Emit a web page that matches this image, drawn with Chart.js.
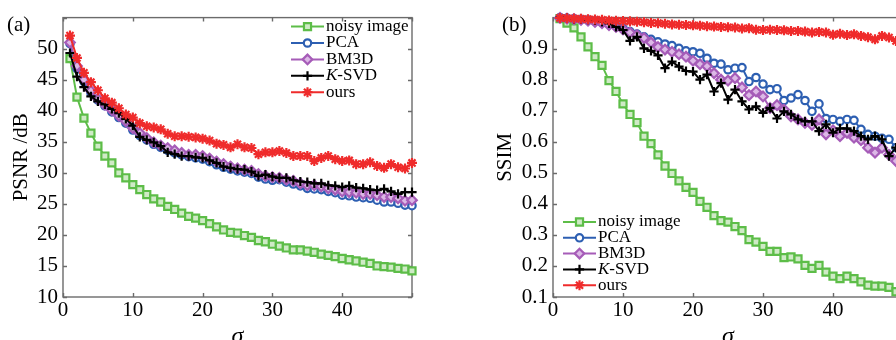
<!DOCTYPE html>
<html>
<head>
<meta charset="utf-8">
<script src="https://cdn.jsdelivr.net/npm/chart.js@4.4.0/dist/chart.umd.min.js"></script>
<style>
  html, body { margin: 0; padding: 0; background: #fff; overflow: hidden; width: 896px; height: 340px; position: relative; }
  #psnrChart { position: absolute; left: 0; top: 0; }
  #ssimChart { position: absolute; left: 450px; top: 0; }
</style>
</head>
<body>
<canvas id="psnrChart" width="440" height="340"></canvas>
<canvas id="ssimChart" width="480" height="340"></canvas>
<script>
// noise level (x axis), shared by both panels
const sigma = [1, 2, 3, 4, 5, 6, 7, 8, 9, 10, 11, 12, 13, 14, 15, 16, 17, 18, 19, 20,
  21, 22, 23, 24, 25, 26, 27, 28, 29, 30, 31, 32, 33, 34, 35, 36, 37, 38, 39, 40,
  41, 42, 43, 44, 45, 46, 47, 48, 49, 50];
const methods = ['noisy image', 'PCA', 'BM3D', 'K-SVD', 'ours'];

// (a) PSNR /dB
const psnrNoisy = [48.4, 42.2, 38.8, 36.4, 34.3, 32.7, 31.6, 30.0, 29.2, 28.1, 27.3, 26.5, 25.8, 25.3, 24.6, 24.1, 23.5, 23.0, 22.7, 22.3,
  21.8, 21.3, 20.8, 20.4, 20.3, 19.9, 19.6, 19.1, 18.9, 18.5, 18.2, 17.9, 17.6, 17.6, 17.4, 17.2, 16.9, 16.7, 16.5, 16.2,
  16.0, 15.8, 15.6, 15.4, 15.0, 14.9, 14.8, 14.6, 14.5, 14.2];
const psnrPCA = [50.8, 46.8, 44.7, 42.9, 41.7, 40.8, 39.8, 38.9, 38.0, 36.9, 36.0, 35.3, 34.6, 34.1, 33.6, 33.2, 32.9, 32.6, 32.4, 32.2,
  31.8, 31.3, 30.9, 30.6, 30.3, 30.1, 29.9, 29.3, 29.0, 28.8, 28.9, 28.5, 28.2, 27.9, 27.5, 27.4, 27.3, 27.0, 26.8, 26.4,
  26.3, 26.1, 26.0, 25.9, 25.6, 25.3, 25.3, 25.1, 24.8, 24.7];
const psnrBM3D = [51.0, 47.2, 45.0, 43.2, 41.9, 41.0, 40.1, 39.2, 38.3, 37.2, 36.4, 35.6, 34.9, 34.4, 34.0, 33.6, 33.2, 32.9, 32.9, 32.7,
  32.3, 31.8, 31.4, 31.0, 30.7, 30.5, 30.3, 29.8, 29.5, 29.3, 29.2, 28.9, 28.7, 28.3, 28.0, 28.0, 27.8, 27.5, 27.3, 27.0,
  26.9, 26.8, 26.6, 26.6, 26.4, 26.1, 26.1, 25.9, 25.5, 25.6];
const psnrKSVD = [49.3, 45.5, 43.8, 42.3, 41.5, 41.0, 40.3, 39.6, 38.7, 37.6, 35.8, 35.3, 34.9, 34.3, 33.3, 33.0, 32.7, 32.7, 32.5, 32.4,
  32.0, 31.6, 31.0, 30.8, 30.6, 30.5, 30.2, 29.5, 29.7, 29.4, 29.2, 29.2, 28.8, 28.6, 28.5, 28.3, 28.3, 28.0, 27.9, 27.7,
  27.9, 27.6, 27.5, 27.3, 27.2, 27.4, 27.0, 26.6, 26.9, 26.9];
const psnrOurs = [52.1, 48.5, 46.1, 44.6, 43.3, 42.0, 41.3, 40.4, 39.4, 38.9, 38.0, 37.5, 37.3, 37.0, 36.3, 35.9, 35.9, 35.8, 35.7, 35.5,
  35.2, 34.7, 34.5, 34.1, 34.6, 34.1, 34.0, 33.0, 33.3, 33.3, 33.5, 33.2, 32.7, 32.7, 32.7, 31.9, 32.4, 32.7, 32.2, 31.9,
  32.0, 31.4, 31.4, 31.7, 31.1, 30.8, 31.4, 30.9, 30.7, 31.6];

// (b) SSIM
const ssimNoisy = [0.997, 0.982, 0.967, 0.938, 0.906, 0.874, 0.846, 0.797, 0.762, 0.722, 0.688, 0.662, 0.618, 0.594, 0.558, 0.522, 0.498, 0.474, 0.453, 0.437,
  0.408, 0.389, 0.362, 0.346, 0.341, 0.327, 0.314, 0.285, 0.277, 0.263, 0.247, 0.247, 0.227, 0.229, 0.223, 0.202, 0.192, 0.202, 0.180, 0.167,
  0.159, 0.167, 0.159, 0.149, 0.138, 0.135, 0.135, 0.131, 0.117, 0.110];
const ssimPCA = [1.0, 0.998, 0.996, 0.994, 0.992, 0.989, 0.985, 0.980, 0.975, 0.965, 0.955, 0.947, 0.938, 0.930, 0.922, 0.915, 0.910, 0.901, 0.893, 0.890,
  0.885, 0.869, 0.853, 0.850, 0.832, 0.837, 0.839, 0.794, 0.807, 0.786, 0.768, 0.771, 0.733, 0.741, 0.752, 0.733, 0.698, 0.722, 0.675, 0.672,
  0.666, 0.672, 0.669, 0.640, 0.624, 0.618, 0.611, 0.608, 0.581, 0.570];
const ssimBM3D = [0.999, 0.997, 0.995, 0.993, 0.990, 0.986, 0.982, 0.976, 0.970, 0.962, 0.952, 0.944, 0.934, 0.920, 0.905, 0.897, 0.890, 0.882, 0.874, 0.861,
  0.850, 0.843, 0.821, 0.800, 0.797, 0.805, 0.775, 0.750, 0.762, 0.746, 0.709, 0.718, 0.704, 0.682, 0.672, 0.661, 0.654, 0.672, 0.624, 0.637,
  0.618, 0.629, 0.613, 0.605, 0.581, 0.565, 0.581, 0.558, 0.538, 0.540];
const ssimKSVD = [1.0, 0.998, 0.996, 0.995, 0.993, 0.991, 0.986, 0.981, 0.970, 0.960, 0.925, 0.938, 0.901, 0.893, 0.878, 0.837, 0.858, 0.842, 0.828, 0.826,
  0.800, 0.816, 0.762, 0.789, 0.736, 0.768, 0.730, 0.704, 0.714, 0.693, 0.709, 0.675, 0.698, 0.688, 0.672, 0.666, 0.666, 0.634, 0.656, 0.629,
  0.643, 0.643, 0.634, 0.618, 0.608, 0.618, 0.608, 0.554, 0.581, 0.570];
const ssimOurs = [0.999, 0.998, 0.997, 0.996, 0.995, 0.994, 0.993, 0.991, 0.990, 0.989, 0.988, 0.987, 0.985, 0.983, 0.982, 0.980, 0.978, 0.977, 0.976, 0.975,
  0.974, 0.972, 0.971, 0.970, 0.969, 0.968, 0.965, 0.966, 0.961, 0.960, 0.961, 0.960, 0.959, 0.957, 0.957, 0.955, 0.952, 0.954, 0.952, 0.945,
  0.948, 0.944, 0.946, 0.941, 0.937, 0.930, 0.941, 0.936, 0.925, 0.930];

// look of each method (same order as methods)
const styles = [
  { color: '#5dbd48', fill: '#cfeac6', marker: 'rect', r: 5 },
  { color: '#2d5fb2', fill: '#ffffff', marker: 'circle', r: 3.7 },
  { color: '#a65cb8', fill: '#dcb8e6', marker: 'rectRot', r: 4.8 },
  { color: '#000000', fill: '#000000', marker: 'cross', r: 4.6 },
  { color: '#ef2b2b', fill: '#ef2b2b', marker: 'star', r: 5 }
];

const axisColor = '#6b6b6b';
Chart.defaults.font.family = '"Liberation Serif", "Times New Roman", serif';
Chart.defaults.color = '#000';

// frame round the plot area, with MATLAB-like ticks pointing inwards
const framePlugin = {
  id: 'frame',
  beforeDatasetsDraw(chart) {
    const { ctx, chartArea: a, scales: { x, y } } = chart;
    const len = 4;
    ctx.save();
    ctx.strokeStyle = axisColor;
    ctx.lineWidth = 1.4;
    ctx.strokeRect(a.left, a.top, a.right - a.left, a.bottom - a.top);
    ctx.beginPath();
    x.ticks.forEach(t => {
      const px = Math.round(x.getPixelForValue(t.value)) + 0.5;
      ctx.moveTo(px, a.bottom); ctx.lineTo(px, a.bottom - len);
      ctx.moveTo(px, a.top); ctx.lineTo(px, a.top + len);
    });
    y.ticks.forEach(t => {
      const py = Math.round(y.getPixelForValue(t.value)) + 0.5;
      ctx.moveTo(a.left, py); ctx.lineTo(a.left + len, py);
      ctx.moveTo(a.right, py); ctx.lineTo(a.right - len, py);
    });
    ctx.stroke();
    ctx.restore();
  },
  afterDraw(chart, args, opts) {
    const { ctx, chartArea: a } = chart;
    ctx.save();
    // panel letter
    ctx.font = '21px "Liberation Serif"';
    ctx.fillStyle = '#000';
    ctx.textBaseline = 'middle';
    ctx.fillText(opts.panel, a.left + opts.panelDx, a.top + 8);

    // legend
    const lx = opts.corner === 'topright' ? a.right - 121 : a.left + 10;
    const ly = opts.corner === 'topright' ? a.top + 9 : a.bottom - 75;
    const step = opts.corner === 'topright' ? 16.4 : 15.8;
    chart.data.datasets.forEach((ds, i) => {
      const yy = ly + i * step;
      ctx.strokeStyle = ds.borderColor;
      ctx.lineWidth = 2;
      ctx.beginPath();
      ctx.moveTo(lx, yy); ctx.lineTo(lx + 33, yy);
      ctx.stroke();
      ctx.fillStyle = ds.pointBackgroundColor;
      ctx.strokeStyle = ds.borderColor;
      ctx.lineWidth = ds.pointBorderWidth;
      Chart.helpers.drawPoint(ctx, { pointStyle: ds.pointStyle, radius: ds.pointRadius, borderWidth: ds.pointBorderWidth, rotation: 0 }, lx + 16.5, yy);
      ctx.fillStyle = '#000';
      let tx = lx + 35;
      let label = ds.label;
      if (label.startsWith('K-')) {
        ctx.font = 'italic 17px "Liberation Serif"';
        ctx.fillText('K', tx, yy);
        tx += ctx.measureText('K').width;
        label = label.slice(1);
      }
      ctx.font = '17px "Liberation Serif"';
      ctx.fillText(label, tx, yy);
    });
    ctx.restore();
  }
};

function makeChart(id, values, yMin, yMax, yStep, yTitle, fmt, pad, titlePad, frameOpts) {
  return new Chart(document.getElementById(id), {
    type: 'line',
    data: {
      datasets: values.map((vals, i) => ({
        label: methods[i],
        data: vals.map((v, j) => ({ x: sigma[j], y: v })),
        borderColor: styles[i].color,
        borderWidth: 2,
        pointStyle: styles[i].marker,
        pointRadius: styles[i].r,
        pointBorderWidth: 2.2,
        pointBorderColor: styles[i].color,
        pointBackgroundColor: styles[i].fill,
        tension: 0,
        clip: false,
        order: values.length - 1 - i
      }))
    },
    options: {
      responsive: false,
      animation: false,
      events: [],
      layout: { padding: pad },
      plugins: {
        legend: { display: false },
        tooltip: { enabled: false },
        frame: frameOpts
      },
      scales: {
        x: {
          type: 'linear',
          min: 0,
          max: 50,
          grid: { display: false, drawTicks: false },
          border: { display: false },
          ticks: { stepSize: 10, padding: 1, font: { size: 21 }, callback: v => (v === 50 ? '' : v) },
          title: { display: true, text: 'σ', font: { size: 24, style: 'italic' }, padding: { top: 0, bottom: -11 } },
          afterFit: s => { s.height = 43; }
        },
        y: {
          min: yMin,
          max: yMax,
          grid: { display: false, drawTicks: false },
          border: { display: false },
          ticks: { stepSize: yStep, padding: 5, font: { size: 21 }, callback: fmt },
          title: { display: true, text: yTitle, font: { size: 21 }, padding: { top: titlePad, bottom: 0 } },
          afterFit: s => { s.width = 63; }
        }
      }
    },
    plugins: [framePlugin]
  });
}

makeChart('psnrChart', [psnrNoisy, psnrPCA, psnrBM3D, psnrKSVD, psnrOurs], 10, 55, 5, 'PSNR /dB',
  v => (v > 54 ? '' : v), { left: 0, right: 28, top: 16, bottom: 0 }, 9,
  { panel: '(a)', panelDx: -56, corner: 'topright' });

makeChart('ssimChart', [ssimNoisy, ssimPCA, ssimBM3D, ssimKSVD, ssimOurs], 0.1, 1.0, 0.1, 'SSIM',
  v => (v > 0.95 ? '' : v.toFixed(1)), { left: 40, right: 27, top: 16, bottom: 0 }, 3,
  { panel: '(b)', panelDx: -51, corner: 'bottomleft' });
</script>
</body>
</html>
